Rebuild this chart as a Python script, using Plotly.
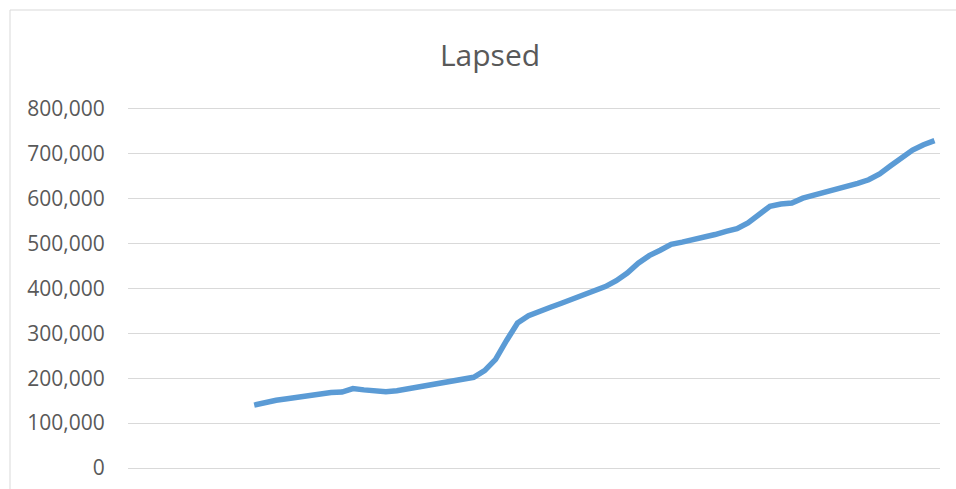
import plotly.graph_objects as go

# Category positions (74 periods; first 11 have no data)
periods = list(range(1, 75))
lapsed = [None] * 11 + [
    140000, 146000, 151000, 154000, 158000, 162000, 165000, 168000, 169000, 177000,
    174000, 172000, 170000, 172000, 176000, 181000, 185000, 188000, 192000, 197000,
    202000, 217000, 242000, 284000, 323000, 339000, 350000, 358000, 367000, 376000,
    385000, 393000, 404000, 417000, 434000, 456000, 473000, 485000, 498000, 503000,
    508000, 514000, 520000, 527000, 533000, 546000, 563000, 583000, 588000, 590000,
    601000, 607000, 613000, 619000, 626000, 634000, 642000, 655000, 673000, 692000,
    708000, 720000, 729000,
]
y_ticks = [0, 100000, 200000, 300000, 400000, 500000, 600000, 700000, 800000]
y_tick_text = ["0", "100,000", "200,000", "300,000", "400,000", "500,000",
               "600,000", "700,000", "800,000"]

W, H = 956, 489
L, R, T, B = 128, 16, 107, 19
PW, PH = W - L - R, H - T - B

fig = go.Figure()
fig.add_trace(go.Scatter(
    x=periods, y=lapsed, mode="lines",
    line=dict(color="#5B9BD5", width=5.5),
    connectgaps=False, hoverinfo="skip", showlegend=False,
))

fig.update_layout(
    width=W, height=H,
    margin=dict(l=L, r=R, t=T, b=B, autoexpand=False),
    paper_bgcolor="white", plot_bgcolor="white",
    title=dict(text="Lapsed", x=490 / W, xanchor="center", y=1 - 55 / H, yanchor="middle",
               font=dict(family="Open Sans", size=30, color="#595959")),
    xaxis=dict(range=[0.5, 74.5], showticklabels=False, showgrid=False,
               zeroline=False, showline=False, ticks="", automargin=False),
    yaxis=dict(range=[-4454, 804009], tickvals=y_ticks, ticktext=y_tick_text,
               showgrid=True, gridcolor="#D9D9D9", gridwidth=1,
               zeroline=False, showline=False, automargin=False,
               ticks="outside", ticklen=18, tickcolor="rgba(0,0,0,0)",
               tickfont=dict(family="Open Sans", size=21, color="#595959")),
    shapes=[dict(type="rect", xref="paper", yref="paper",
                 x0=(10 - L) / PW, x1=1.5, y0=-0.5, y1=1 + (T - 10) / PH,
                 line=dict(color="#D9D9D9", width=1), layer="below")],
)

fig.write_html("out.html", config={"displayModeBar": False},
               post_script="document.body.style.margin='0';")
